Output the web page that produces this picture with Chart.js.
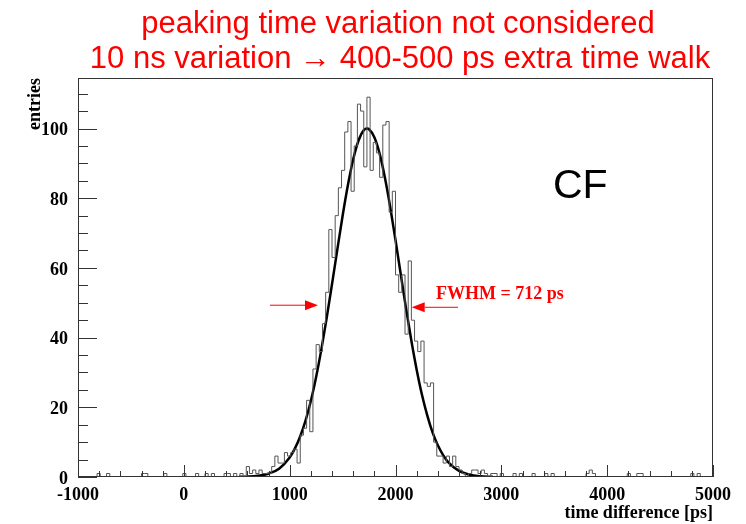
<!DOCTYPE html>
<html>
<head>
<meta charset="utf-8">
<script src="https://cdn.jsdelivr.net/npm/chart.js@4"></script>
<style>
html, body { margin: 0; padding: 0; background: #fff; }
canvas { display: block; }
</style>
</head>
<body>
<canvas id="c" width="746" height="524"></canvas>
<script>
"use strict";
// histogram: 200 bins of 30 ps between -1000 and 5000 ps
const binLow = -1000;
const binWidth = 30;
const counts = [
    0, 0, 0, 0, 0, 0, 1, 0, 0, 1, 0, 0, 0, 0, 0, 0, 0, 0, 0, 0,
    1, 1, 0, 0, 0, 0, 0, 1, 0, 0, 0, 0, 0, 1, 0, 0, 0, 1, 0, 0,
    1, 0, 1, 0, 0, 0, 1, 1, 0, 1, 0, 1, 0, 3, 1, 2, 1, 2, 1, 1,
    1, 3, 6, 4, 4, 7, 6, 7, 8, 4, 12, 14, 22, 13, 31, 38, 36, 44, 53, 71,
    63, 75, 83, 88, 99, 102, 82, 95, 107, 105, 89, 109, 88, 96, 93, 86, 101, 102, 76, 82,
    58, 53, 58, 41, 62, 45, 39, 36, 39, 27, 26, 27, 10, 6, 6, 4, 6, 3, 6, 3,
    2, 1, 0, 1, 2, 2, 1, 2, 1, 0, 1, 1, 0, 1, 0, 0, 0, 1, 0, 1,
    0, 0, 0, 1, 0, 0, 0, 1, 0, 1, 0, 0, 0, 0, 0, 0, 0, 0, 0, 0,
    1, 2, 1, 0, 0, 0, 0, 0, 0, 0, 0, 0, 0, 1, 0, 0, 1, 1, 0, 0,
    0, 0, 0, 0, 0, 0, 0, 0, 0, 0, 0, 0, 0, 1, 0, 1, 0, 0, 0, 0
];
// gauss fit curve
const fitX = [520, 600, 700, 800, 900, 1000, 1050, 1100, 1150, 1200, 1250, 1300, 1350, 1400, 1450, 1500, 1550, 1600, 1650, 1700, 1732,
    1750, 1800, 1850, 1900, 1950, 2000, 2050, 2100, 2150, 2200, 2250, 2300, 2350, 2400, 2450, 2500, 2600, 2700, 2800, 2920];
const fitY = [0.04, 0.1, 0.33, 0.94, 2.4, 5.6, 8.2, 11.7, 16.2, 21.8, 28.7, 36.7, 45.7, 55.3, 65.2, 74.9, 83.7, 91.1, 96.5, 99.5, 100,
    99.8, 97.5, 92.8, 85.9, 77.5, 68.0, 58.1, 48.3, 39.1, 30.8, 23.6, 17.7, 12.8, 9.1, 6.3, 4.2, 1.74, 0.65, 0.22, 0.05];
const xTicks = [-1000, 0, 1000, 2000, 3000, 4000, 5000];
const yTicks = [0, 20, 40, 60, 80, 100];
const titleLines = ['peaking time variation not considered', '10 ns variation \u2192 400-500 ps extra time walk'];
const fwhmLabel = 'FWHM = 712 ps';
// arrows as [tail x, tip x, y] in data units
const arrowLeft = [814, 1268, 49.3];
const arrowRight = [2591, 2153, 48.7];

const serif = "'Liberation Serif', 'Times New Roman', serif";
const sans = "'Liberation Sans', Arial, sans-serif";

const histPoints = counts.map((c, i) => ({ x: binLow + i * binWidth, y: c }));
histPoints.push({ x: binLow + counts.length * binWidth, y: 0 });
const fitPoints = fitX.map((x, i) => ({ x: x, y: fitY[i] }));

const drawArrow = (ctx, xs, ys, a) => {
    const tail = xs.getPixelForValue(a[0]);
    const tip = xs.getPixelForValue(a[1]);
    const py = ys.getPixelForValue(a[2]);
    const dir = tip > tail ? 1 : -1;
    const base = tip - dir * 13;
    ctx.beginPath();
    ctx.moveTo(tail, py);
    ctx.lineTo(base, py);
    ctx.stroke();
    ctx.beginPath();
    ctx.moveTo(tip, py);
    ctx.lineTo(base, py - 5);
    ctx.lineTo(base, py + 5);
    ctx.closePath();
    ctx.fill();
};

const rootFrame = {
    id: 'rootFrame',
    afterDatasetsDraw(chart) {
        const { ctx, chartArea: a, scales: { x, y } } = chart;
        ctx.save();
        ctx.strokeStyle = '#333';
        ctx.lineWidth = 1;
        ctx.strokeRect(a.left + 0.5, a.top + 0.5, a.right - a.left - 1, a.bottom - a.top - 1);
        ctx.beginPath();
        for (let v = 0; v <= 110; v += 5) {
            const py = Math.round(y.getPixelForValue(v)) + 0.5;
            const len = v % 20 === 0 ? 19 : 10;
            ctx.moveTo(a.left, py);
            ctx.lineTo(a.left + len, py);
        }
        for (let v = -1000; v <= 5000; v += 200) {
            const px = Math.round(x.getPixelForValue(v)) + 0.5;
            const len = v % 1000 === 0 ? 12 : 6;
            ctx.moveTo(px, a.bottom);
            ctx.lineTo(px, a.bottom - len);
        }
        ctx.stroke();

        // red annotations
        ctx.strokeStyle = '#ff0000';
        ctx.fillStyle = '#ff0000';
        drawArrow(ctx, x, y, arrowLeft);
        drawArrow(ctx, x, y, arrowRight);
        ctx.font = 'bold 18px ' + serif;
        ctx.textAlign = 'left';
        ctx.textBaseline = 'alphabetic';
        ctx.fillText(fwhmLabel, 436, 299);

        ctx.font = '31px ' + sans;
        ctx.textAlign = 'center';
        ctx.fillText(titleLines[0], 398, 33);
        ctx.fillText(titleLines[1], 400, 68);

        ctx.fillStyle = '#000';
        ctx.font = '41px ' + sans;
        ctx.textAlign = 'left';
        ctx.fillText('CF', 553, 198);
        ctx.restore();
    }
};

const tickFont = { family: serif, size: 18, weight: 'bold' };

new Chart(document.getElementById('c'), {
    type: 'line',
    data: {
        datasets: [
            { data: histPoints, stepped: 'before', borderColor: '#555', borderWidth: 1, pointRadius: 0, fill: false },
            { data: fitPoints, borderColor: '#000', borderWidth: 2.5, pointRadius: 0, fill: false, cubicInterpolationMode: 'monotone' }
        ]
    },
    options: {
        responsive: false,
        animation: false,
        devicePixelRatio: 1,
        layout: { padding: { left: 0, right: 33, top: 78, bottom: 0 } },
        plugins: { legend: { display: false }, tooltip: { enabled: false } },
        scales: {
            x: {
                type: 'linear',
                min: -1000,
                max: 5000,
                grid: { display: false, drawTicks: false },
                border: { display: false },
                afterBuildTicks: (s) => { s.ticks = xTicks.map(v => ({ value: v })); },
                afterFit: (s) => { s.height = 47; },
                ticks: { font: tickFont, color: '#000', padding: 8, maxRotation: 0, autoSkip: false, callback: (v) => String(v) },
                title: {
                    display: true, text: 'time difference [ps]', align: 'end', color: '#000',
                    font: { family: serif, size: 18, weight: 'bold', lineHeight: 1.2 }, padding: { top: 0, bottom: 0 }
                }
            },
            y: {
                type: 'linear',
                min: 0,
                max: 114.5,
                grid: { display: false, drawTicks: false },
                border: { display: false },
                afterBuildTicks: (s) => { s.ticks = yTicks.map(v => ({ value: v })); },
                afterFit: (s) => { s.width = 78; },
                ticks: { font: tickFont, color: '#000', padding: 10, labelOffset: 2, callback: (v) => String(v) },
                title: {
                    display: true, text: 'entries', align: 'end', color: '#000',
                    font: { family: serif, size: 18, weight: 'bold', lineHeight: 1.2 }, padding: { top: 25, bottom: 0 }
                }
            }
        }
    },
    plugins: [rootFrame]
});
</script>
</body>
</html>
